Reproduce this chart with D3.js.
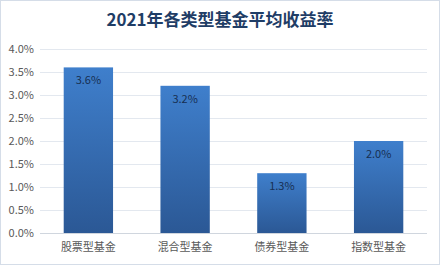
<!DOCTYPE html>
<meta charset="utf-8">
<style>
body { margin: 0; background: #fff; }
text { font-family: "Microsoft YaHei", "Noto Sans CJK SC", sans-serif; }
</style>
<svg width="440" height="265"></svg>
<script src="https://d3js.org/d3.v7.min.js"></script>
<script>
// fund categories and their 2021 average returns (%)
var categories = ["股票型基金", "混合型基金", "债券型基金", "指数型基金"];
var values = [3.6, 3.2, 1.3, 2.0];
var yTicks = [0, 0.5, 1, 1.5, 2, 2.5, 3, 3.5, 4];

var svg = d3.select("svg"),
  width = +svg.attr("width"),
  height = +svg.attr("height");

var margin = {left: 40, right: 13, top: 49, bottom: 32};

// gradient for bars
var grad = svg.append("defs").append("linearGradient")
  .attr("id", "barGrad")
  .attr("x1", 0).attr("y1", 0).attr("x2", 0).attr("y2", 1);
grad.append("stop").attr("offset", "0%").attr("stop-color", "#3f7fcc");
grad.append("stop").attr("offset", "100%").attr("stop-color", "#2b5895");

// outer border
svg.append("rect")
  .attr("x", 0.5).attr("y", 0.5)
  .attr("width", width - 1).attr("height", height - 1)
  .attr("fill", "#fff")
  .attr("stroke", "#d5dde8");

svg.append("text")
  .attr("x", width / 2)
  .attr("y", 26)
  .attr("text-anchor", "middle")
  .attr("font-size", 17)
  .attr("font-weight", "bold")
  .attr("fill", "#1f3d66")
  .text("2021年各类型基金平均收益率");

var x = d3.scaleBand()
  .domain(categories)
  .range([margin.left, width - margin.right])
  .paddingInner(0.49)
  .paddingOuter(0.245);

var y = d3.scaleLinear()
  .domain([0, 4])
  .range([height - margin.bottom, margin.top]);

// gridlines
svg.append("g")
  .selectAll("line")
  .data(yTicks)
  .enter().append("line")
  .attr("x1", margin.left)
  .attr("x2", width - margin.right)
  .attr("y1", function(d) { return Math.round(y(d)) + 0.5; })
  .attr("y2", function(d) { return Math.round(y(d)) + 0.5; })
  .attr("stroke", function(d) { return d === 0 ? "#d0d6de" : "#e3e8ef"; });

// y axis labels
svg.append("g")
  .selectAll("text")
  .data(yTicks)
  .enter().append("text")
  .attr("x", 34)
  .attr("y", function(d) { return y(d); })
  .attr("dy", "0.35em")
  .attr("text-anchor", "end")
  .attr("font-size", 11)
  .attr("fill", "#595959")
  .text(function(d) { return d.toFixed(1) + "%"; });

// bars
svg.append("g")
  .selectAll("rect")
  .data(values)
  .enter().append("rect")
  .attr("x", function(d, i) { return x(categories[i]); })
  .attr("y", function(d) { return y(d); })
  .attr("width", x.bandwidth())
  .attr("height", function(d) { return y(0) - y(d); })
  .attr("fill", "url(#barGrad)");

// value labels
svg.append("g")
  .selectAll("text")
  .data(values)
  .enter().append("text")
  .attr("x", function(d, i) { return x(categories[i]) + x.bandwidth() / 2; })
  .attr("y", function(d) { return y(d) + 17; })
  .attr("text-anchor", "middle")
  .attr("font-size", 11)
  .attr("fill", "#172f52")
  .text(function(d) { return d.toFixed(1) + "%"; });

// category labels
svg.append("g")
  .selectAll("text")
  .data(categories)
  .enter().append("text")
  .attr("x", function(d) { return x(d) + x.bandwidth() / 2; })
  .attr("y", height - 14)
  .attr("text-anchor", "middle")
  .attr("font-size", 11)
  .attr("fill", "#595959")
  .text(function(d) { return d; });
</script>
